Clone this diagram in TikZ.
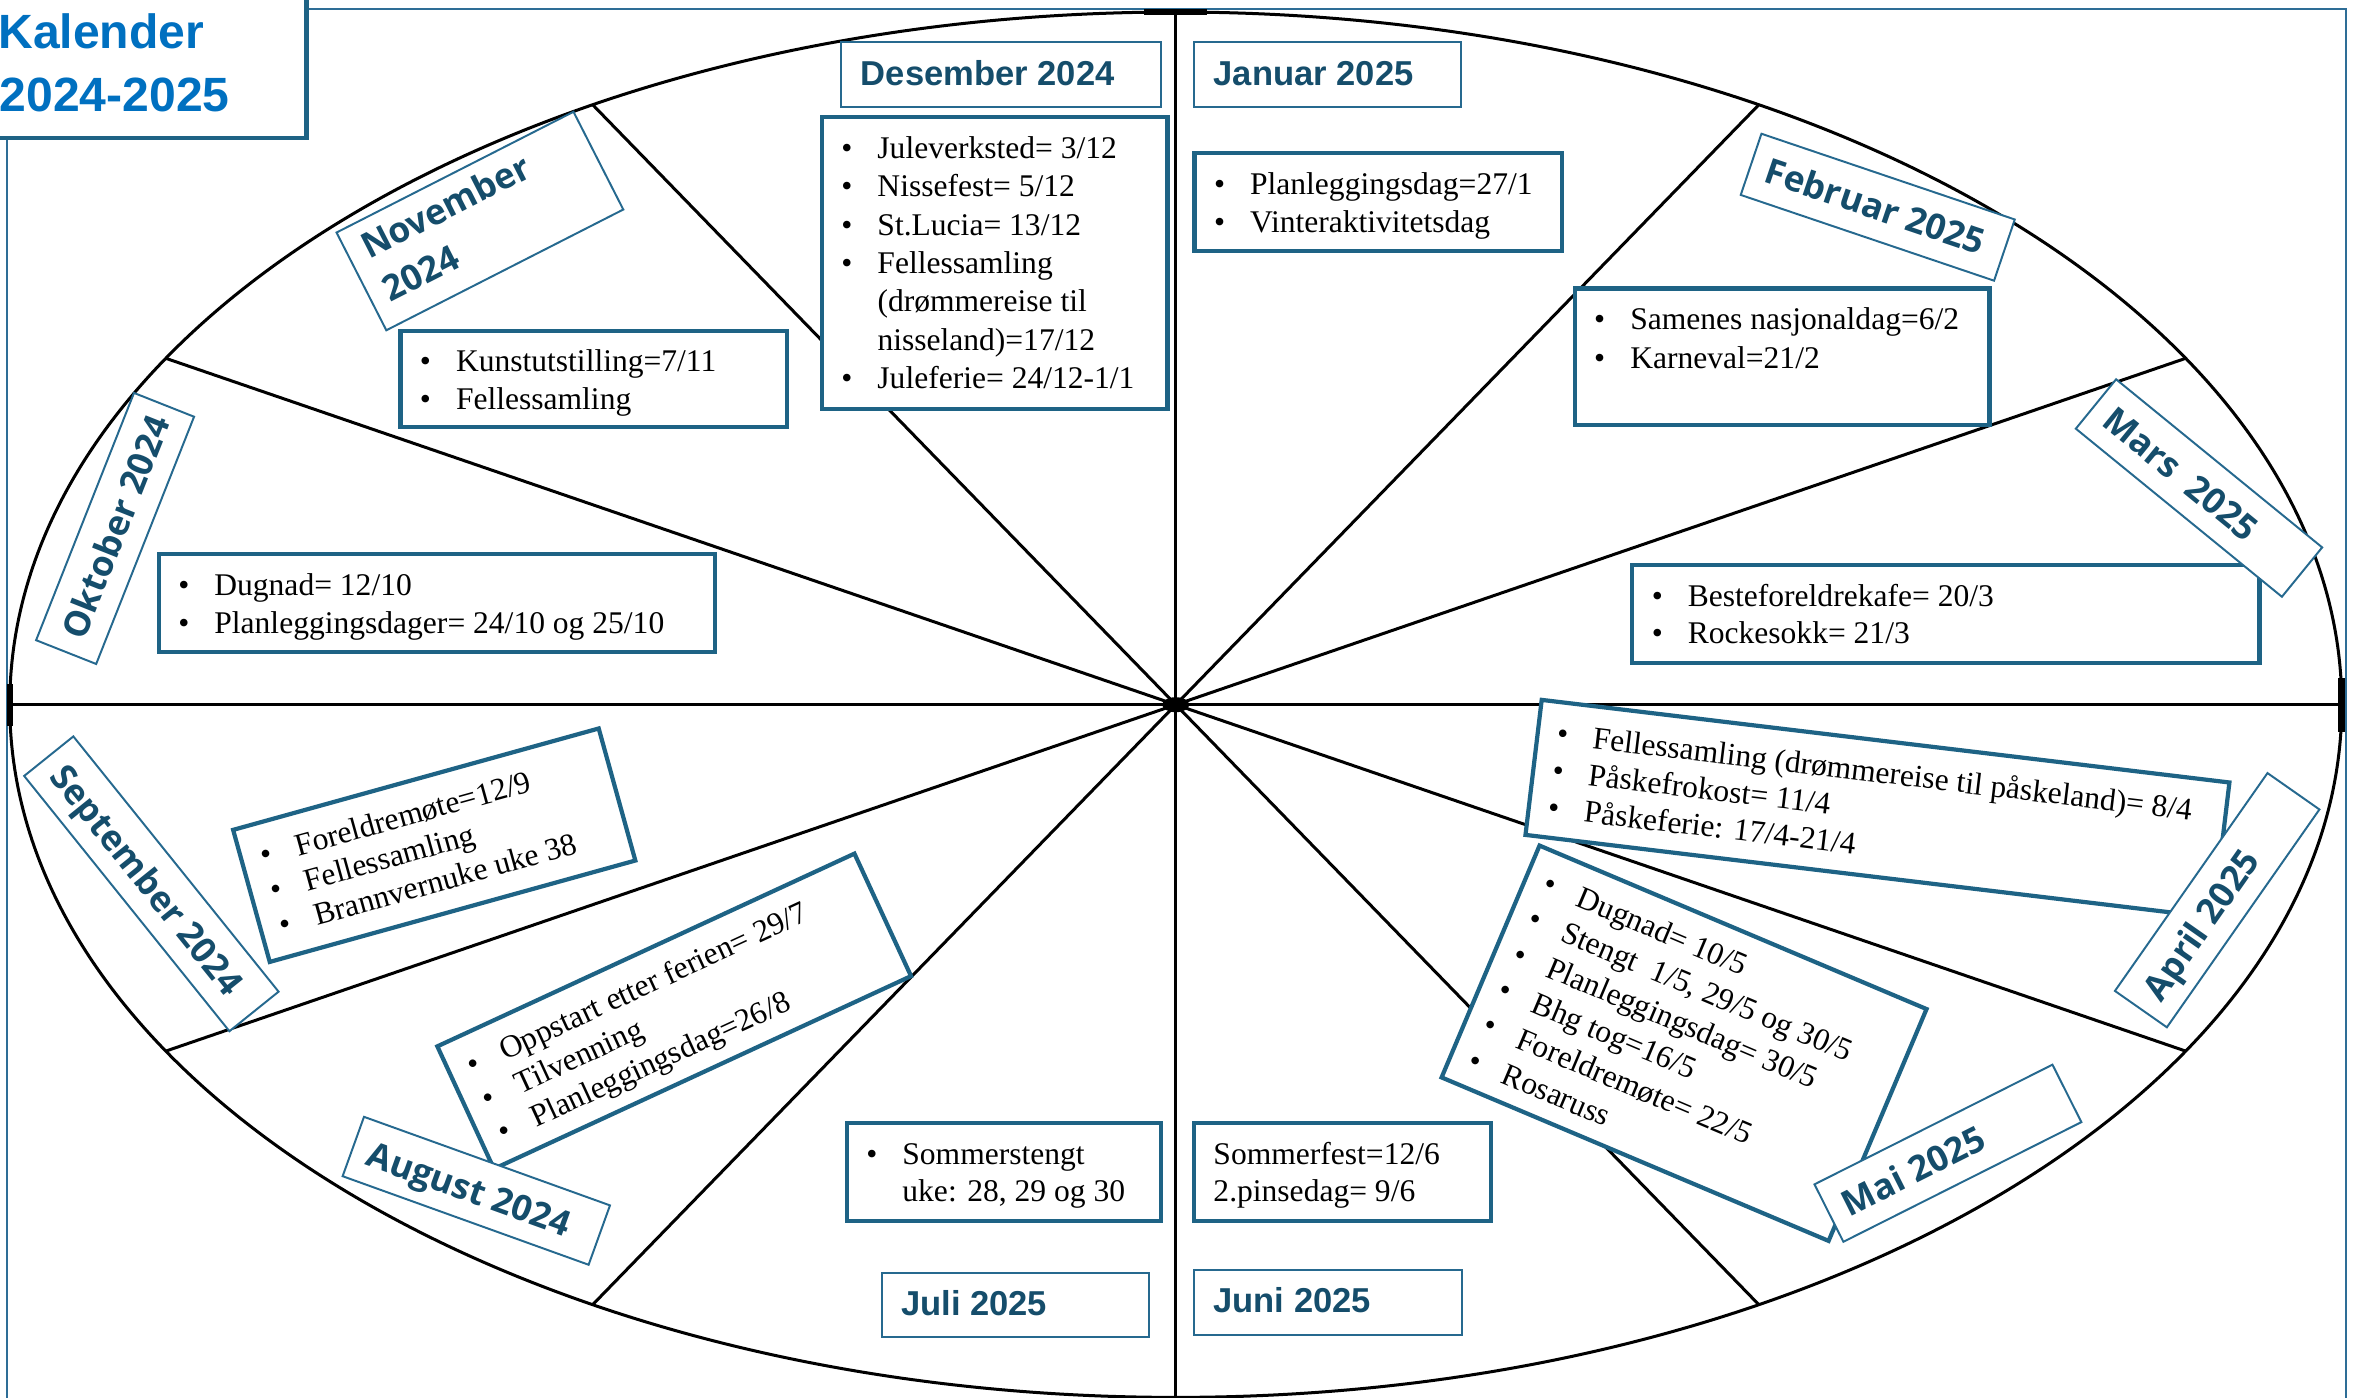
\documentclass[tikz,border=0pt]{standalone}
\usepackage{fontspec}
\setmainfont{Liberation Serif}
\newfontfamily\sansA{Liberation Sans}
\newfontfamily\sansB{Open Sans}
\usetikzlibrary{calc}

\definecolor{cbord}{HTML}{1E6385}
\definecolor{lbord}{HTML}{26698F}
\definecolor{lbltxt}{HTML}{154D6B}
\definecolor{ttl}{HTML}{0070C0}
\definecolor{frm}{HTML}{2E6D96}

% box with fixed size; #3 font, #4 baselineskip, #5 first baseline, #6 lines
\newcommand\mybx[6]{\parbox[c][#2][t]{#1}{#3\baselineskip=#4\relax\vskip\dimexpr#5-#4\relax\hbox to\hsize{}#6}}
\newcommand\itm[1]{\hbox{\hspace*{13pt}\makebox[24pt][l]{•}#1}}
\newcommand\cnt[1]{\hbox{\hspace*{37pt}#1}}
\newcommand\pln[2][13pt]{\hbox{\hspace*{#1}#2}}
\newcommand\bodyf{\fontsize{21pt}{25.5pt}\selectfont}
\newcommand\lfA{\sansA\bfseries\fontsize{23pt}{28pt}\selectfont\color{lbltxt}}
\newcommand\lfB{\sansB\bfseries\fontsize{23.5pt}{32pt}\selectfont\color{lbltxt}}
\newcommand\ttlf{\sansA\bfseries\fontsize{32pt}{38pt}\selectfont}

\tikzset{
  cbox/.style={draw=cbord, line width=2.8pt, fill=white, inner sep=0pt},
  lbox/.style={draw=lbord, line width=1.3pt, fill=white, inner sep=0pt},
  spoke/.style={line width=2pt, draw=black},
}

\begin{document}
\begin{tikzpicture}[x=1pt,y=-1pt]
\useasboundingbox (0,0) rectangle (1568,930);
\fill[white] (0,0) rectangle (1568,930);
% outer frame
\draw[frm, line width=1.3pt] (4.5,6) rectangle (1561.5,945);

% wheel
\coordinate (c) at (782.5,469);
\draw[line width=2pt] (c) ellipse [x radius=776pt, y radius=461pt];
\foreach \a in {0,30,...,330}{
  \coordinate (e\a) at ($(c)+(\a:776pt and 461pt)$);
  \draw[spoke] (c) -- (e\a);
}
\draw[line width=4pt] ([xshift=-21pt]e90) -- ([xshift=21pt]e90);
\draw[line width=4pt] ([yshift=-14pt]e180) -- ([yshift=14pt]e180);
\draw[line width=4.5pt] ([yshift=-18pt]e0) -- ([yshift=18pt]e0);
\fill (c) ellipse [x radius=9pt, y radius=5pt];

% content boxes (axis aligned)
\node[cbox] (cdec) at (662,175) {\mybx{230pt}{194pt}{\bodyf}{25.5pt}{27.5pt}{%
  \itm{Juleverksted= 3/12}\itm{Nissefest= 5/12}\itm{St.Lucia= 13/12}%
  \itm{Fellessamling}\cnt{(drømmereise til}\cnt{nisseland)=17/12}\itm{Juleferie= 24/12-1/1}}};
\node[cbox] (cjan) at (917.25,134.4) {\mybx{244.5pt}{64.8pt}{\bodyf}{25.5pt}{27.5pt}{%
  \itm{Planleggingsdag=27/1}\itm{Vinteraktivitetsdag}}};
\node[cbox] (cfeb) at (1186,237.5) {\mybx{276pt}{91pt}{\bodyf}{25.5pt}{27.5pt}{%
  \itm{Samenes nasjonaldag=6/2}\itm{Karneval=21/2}}};
\node[cbox] (cmar) at (1295,408.5) {\mybx{417.4pt}{65pt}{\bodyf}{24.5pt}{27.5pt}{%
  \itm{Besteforeldrekafe= 20/3}\itm{Rockesokk= 21/3}}};
\node[cbox] (cnov) at (395.25,252.15) {\mybx{257.5pt}{63.7pt}{\bodyf}{25pt}{27pt}{%
  \itm{Kunstutstilling=7/11}\itm{Fellessamling}}};
\node[cbox] (cokt) at (290.85,401.4) {\mybx{370.3pt}{65.2pt}{\bodyf}{25pt}{27.5pt}{%
  \itm{Dugnad= 12/10}\itm{Planleggingsdager= 24/10 og 25/10}}};
\node[cbox] (cjul) at (668.2,780) {\mybx{209.2pt}{64.8pt}{\bodyf}{24.5pt}{27.7pt}{%
  \itm{Sommerstengt}\cnt{uke: 28, 29 og 30}}};
\node[cbox] (cjun) at (893.55,780) {\mybx{197.9pt}{64.8pt}{\bodyf}{24.5pt}{27.7pt}{%
  \pln{Sommerfest=12/6}\pln{2.pinsedag= 9/6}}};

% content boxes (rotated)
\node[cbox, rotate=15.5] (csep) at (289,562.5) {\mybx{252.5pt}{91.2pt}{\bodyf}{24pt}{28.5pt}{%
  \itm{Foreldremøte=12/9}\itm{Fellessamling}\itm{Brannvernuke uke 38}}};
\node[cbox, rotate=24.8] (caug) at (448.7,673) {\mybx{305.8pt}{89.8pt}{\bodyf}{24.5pt}{27.7pt}{%
  \itm{Oppstart etter ferien= 29/7}\itm{Tilvenning}\itm{Planleggingsdag=26/8}}};
\node[cbox, rotate=-6.85] (capr) at (1249.5,538.2) {\mybx{461pt}{90.5pt}{\bodyf}{24.7pt}{28pt}{%
  \itm{Fellessamling (drømmereise til påskeland)= 8/4}\itm{Påskefrokost= 11/4}\itm{Påskeferie: 17/4-21/4}}};
\node[cbox, rotate=-22.9] (cmai) at (1120.8,694.3) {\mybx{279.6pt}{167.5pt}{\bodyf}{25.6pt}{27.5pt}{%
  \itm{Dugnad= 10/5}\itm{Stengt\ \ 1/5, 29/5 og 30/5}\itm{Planleggingsdag= 30/5}%
  \itm{Bhg tog=16/5}\itm{Foreldremøte= 22/5}\itm{Rosaruss}}};

% month labels (straight)
\node[lbox] (ldec) at (666.2,49.35) {\mybx{212.4pt}{43.3pt}{\lfA}{28pt}{29.5pt}{\pln{Desember 2024}}};
\node[lbox] (ljan) at (883.55,49.35) {\mybx{177.5pt}{43.3pt}{\lfA}{28pt}{29.5pt}{\pln{Januar 2025}}};
\node[lbox] (ljul) at (675.7,868.5) {\mybx{178pt}{43pt}{\lfA}{28pt}{28.5pt}{\pln{Juli 2025}}};
\node[lbox] (ljun) at (883.7,866.85) {\mybx{178.2pt}{43.3pt}{\lfA}{28pt}{28.5pt}{\pln{Juni 2025}}};

% month labels (rotated)
\node[lbox, rotate=27] (lnov) at (319.4,147.1) {\mybx{177pt}{73pt}{\lfB}{32pt}{26pt}{\pln[11pt]{November}\pln[11pt]{2024}}};
\node[lbox, rotate=68.4] (lokt) at (76.6,351.7) {\mybx{177pt}{43pt}{\lfB}{32pt}{30pt}{\pln[11pt]{Oktober 2024}}};
\node[lbox, rotate=-51.2] (lsep) at (100.75,588.2) {\mybx{218pt}{42pt}{\lfB}{32pt}{30pt}{\pln[11pt]{September 2024}}};
\node[lbox, rotate=-19.8] (laug) at (317,792.5) {\mybx{174pt}{42pt}{\lfB}{32pt}{30pt}{\pln[11pt]{August 2024}}};
\node[lbox, rotate=-18.7] (lfeb) at (1249.7,137.9) {\mybx{178pt}{43pt}{\lfB}{32pt}{30pt}{\pln[11pt]{Februar 2025}}};
\node[lbox, rotate=-39.2] (lmar) at (1463.5,324.8) {\mybx{177pt}{42.4pt}{\lfB}{32pt}{30pt}{\pln[11pt]{Mars\ \ 2025}}};
\node[lbox, rotate=55] (lapr) at (1475.6,599.1) {\mybx{177pt}{42.2pt}{\lfB}{32pt}{30pt}{\pln[11pt]{April 2025}}};
\node[lbox, rotate=26.7] (lmai) at (1296.4,767.5) {\mybx{177.3pt}{42.8pt}{\lfB}{32pt}{30pt}{\pln[11pt]{Mai 2025}}};

% title
\node[cbox, minimum width=224pt, minimum height=112pt] (tbox) at (92,36) {};
\node[anchor=base east, inner sep=0pt, font=\ttlf, text=ttl] (t1) at (136,32) {Kalender};
\node[anchor=base east, inner sep=0pt, font=\ttlf, text=ttl] (t2) at (153,74.5) {2024-2025};
\end{tikzpicture}
\end{document}
